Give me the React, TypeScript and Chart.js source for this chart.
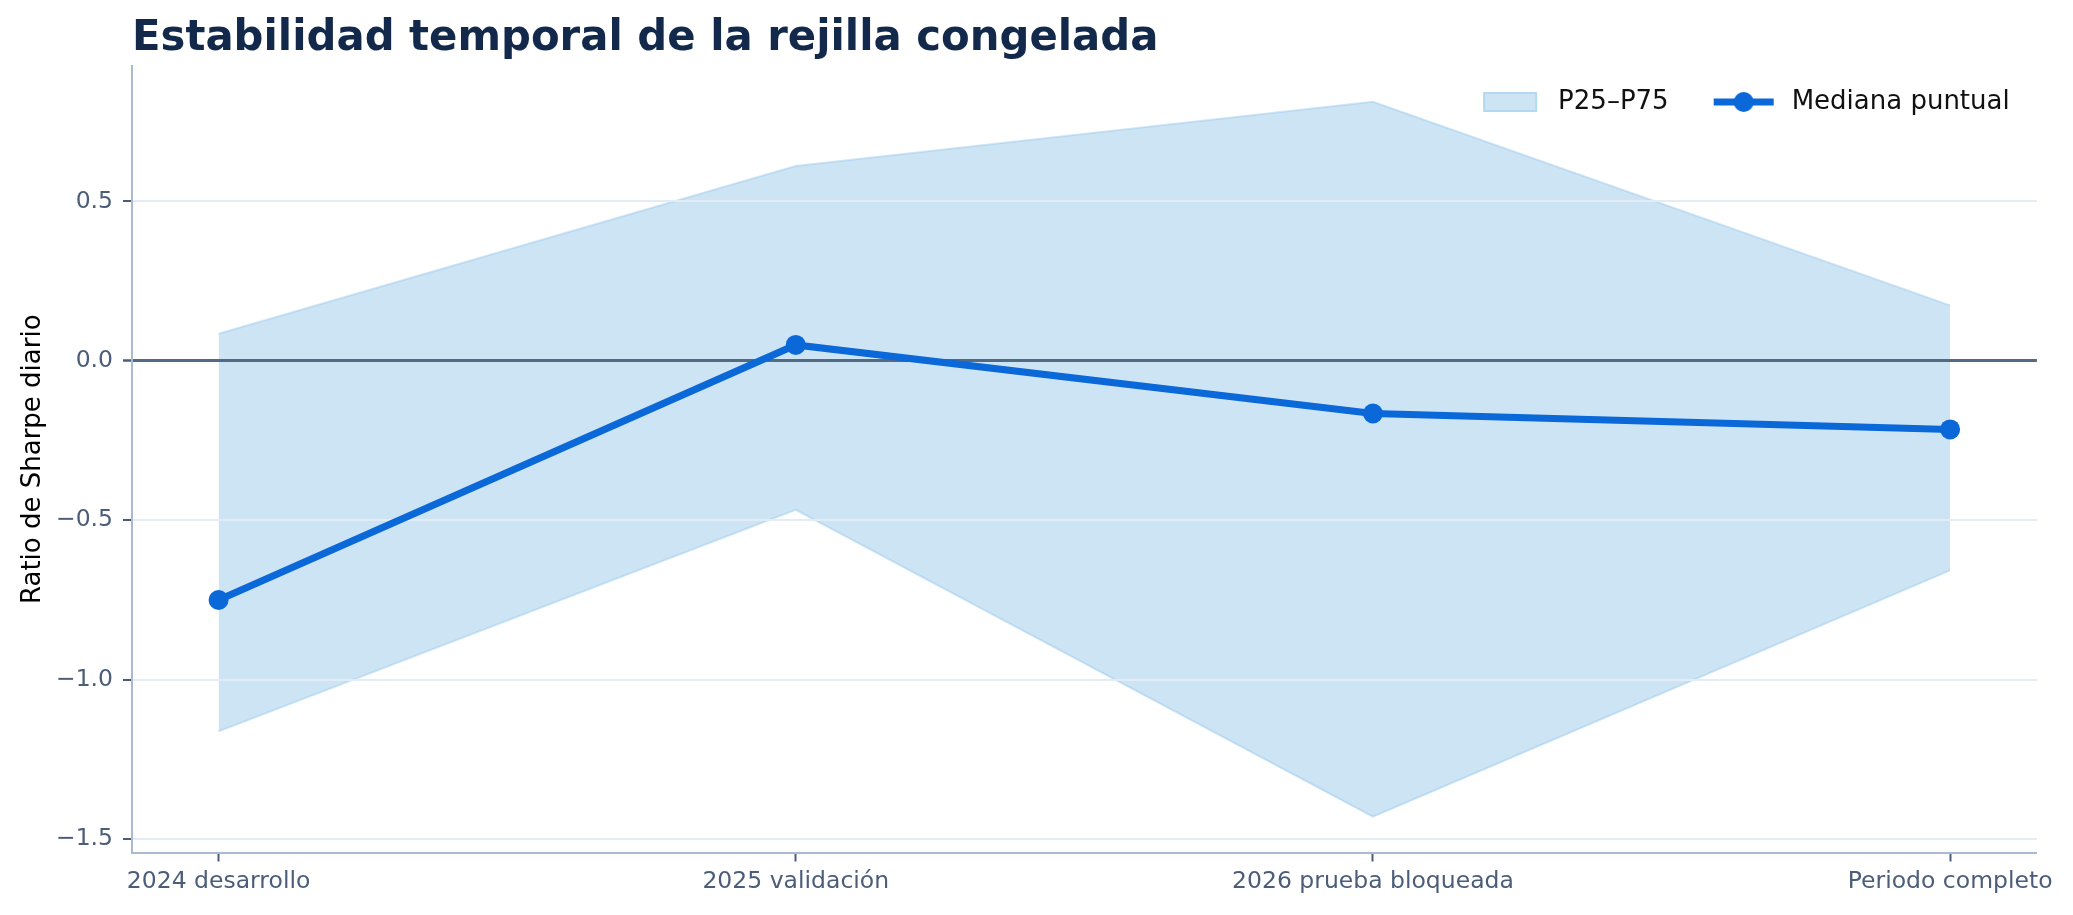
import { useEffect, useRef } from 'react'
import Chart from 'chart.js/auto'

const categories = ['2024 desarrollo', '2025 validación', '2026 prueba bloqueada', 'Periodo completo']
const median = [-0.75, 0.05, -0.165, -0.215]
const p75 = [0.085, 0.611, 0.813, 0.174]
const p25 = [-1.162, -0.467, -1.43, -0.657]
const yTicks = [-1.5, -1.0, -0.5, 0.0, 0.5]

const FONT = "'DejaVu Sans', sans-serif"
const LINE = '#0a68d9'
const BAND_FILL = 'rgba(135, 190, 230, 0.42)'
const BAND_EDGE = 'rgba(150, 200, 236, 0.45)'
const TICK_TEXT = '#4b5d79'
const SPINE = '#a8bbd2'
const GRID = '#e3ebf5'
const ZERO = '#536a84'
const HANDLE_W = 83

function patchImage() {
  const c = document.createElement('canvas')
  c.width = HANDLE_W
  c.height = 22
  const g = c.getContext('2d')!
  const x0 = HANDLE_W - 8 - 54
  g.fillStyle = BAND_FILL
  g.fillRect(x0, 1, 54, 20)
  g.strokeStyle = BAND_EDGE
  g.lineWidth = 2
  g.strokeRect(x0 + 1, 2, 52, 18)
  return c
}

function lineImage() {
  const c = document.createElement('canvas')
  c.width = HANDLE_W
  c.height = 22
  const g = c.getContext('2d')!
  const x1 = HANDLE_W - 5
  g.strokeStyle = LINE
  g.lineWidth = 7
  g.beginPath()
  g.moveTo(x1 - 60, 11)
  g.lineTo(x1, 11)
  g.stroke()
  g.fillStyle = LINE
  g.beginPath()
  g.arc(x1 - 30, 11, 10, 0, Math.PI * 2)
  g.fill()
  return c
}

const fmt = (v: number) => v.toFixed(1).replace('-', '\u2212')

export default function App() {
  const canvasRef = useRef<HTMLCanvasElement>(null)
  const chartRef = useRef<Chart | null>(null)

  useEffect(() => {
    document.body.style.margin = '0'
    const canvas = canvasRef.current
    if (!canvas) return

    if (chartRef.current) chartRef.current.destroy()

    const all = [...median, ...p75, ...p25]
    const lo = Math.min(...all)
    const hi = Math.max(...all)
    const pad = (hi - lo) * 0.05
    const xPad = (categories.length - 1) * 0.05

    const toPts = (arr: number[]) => arr.map((y, i) => ({ x: i, y }))
    const patch = patchImage()
    const lineMk = lineImage()

    // redraw the y grid (incl. zero line) above the band, under the median line
    const gridOverBand = {
      id: 'gridOverBand',
      beforeDatasetDraw(chart: any, args: any) {
        if (args.index !== 0) return
        chart.ctx.save()
        chart.scales.y.drawGrid(chart.chartArea)
        chart.ctx.restore()
      },
    }

    // legend takes no layout height; give it room to draw inside the plot
    const legendInPlot = {
      id: 'legendInPlot',
      afterLayout(chart: any) {
        const lg = chart.legend
        if (!lg) return
        lg.top = chart.chartArea.top - 4
        lg.height = 90
        lg.bottom = lg.top + 90
      },
    }

    chartRef.current = new Chart(canvas, {
      type: 'line',
      data: {
        datasets: [
          {
            label: 'Mediana puntual',
            data: toPts(median),
            borderColor: LINE,
            backgroundColor: LINE,
            borderWidth: 7,
            pointRadius: 10,
            pointBackgroundColor: LINE,
            pointBorderWidth: 0,
            fill: false,
            tension: 0,
          },
          {
            label: 'P75',
            data: toPts(p75),
            borderColor: BAND_EDGE,
            backgroundColor: BAND_FILL,
            borderWidth: 2,
            pointRadius: 0,
            fill: '+1',
            tension: 0,
          },
          {
            label: 'P25',
            data: toPts(p25),
            borderColor: BAND_EDGE,
            backgroundColor: BAND_FILL,
            borderWidth: 2,
            pointRadius: 0,
            fill: false,
            tension: 0,
          },
        ],
      },
      options: {
        animation: false,
        responsive: true,
        maintainAspectRatio: false,
        layout: { padding: { left: 0, right: 36.3, top: 0, bottom: 0 } },
        plugins: {
          tooltip: { enabled: false },
          title: {
            display: true,
            text: 'Estabilidad temporal de la rejilla congelada',
            align: 'start',
            fullSize: false,
            color: '#13294b',
            font: { family: FONT, size: 41.8, weight: 'bold' },
            padding: { top: 14, bottom: 1.8 },
          },
          legend: {
            display: true,
            position: 'top',
            align: 'end',
            fullSize: false,
            maxHeight: 0.001,
            labels: {
              usePointStyle: true,
              pointStyleWidth: HANDLE_W,
              padding: 27,
              color: '#111',
              font: { family: FONT, size: 26 },
              generateLabels: () => [
                {
                  text: 'P25\u2013P75',
                  pointStyle: patch,
                  fillStyle: BAND_FILL,
                  strokeStyle: BAND_EDGE,
                  lineWidth: 0,
                  fontColor: '#111',
                  hidden: false,
                  datasetIndex: 1,
                },
                {
                  text: 'Mediana puntual',
                  pointStyle: lineMk,
                  fillStyle: LINE,
                  strokeStyle: LINE,
                  lineWidth: 0,
                  fontColor: '#111',
                  hidden: false,
                  datasetIndex: 0,
                },
              ],
            },
          },
        },
        scales: {
          x: {
            type: 'linear',
            bounds: 'data',
            min: -xPad,
            max: categories.length - 1 + xPad,
            afterBuildTicks: (s: any) => {
              s.ticks = categories.map((_, i) => ({ value: i }))
            },
            afterFit: (s: any) => {
              s.height = 62.5
              s.paddingLeft = 0
              s.paddingRight = 0
            },
            ticks: {
              callback: (v: any) => categories[v as number],
              color: TICK_TEXT,
              font: { family: FONT, size: 23.5 },
              padding: 6.5,
              maxRotation: 0,
              autoSkip: false,
            },
            grid: {
              drawOnChartArea: false,
              drawTicks: true,
              tickLength: 9,
              tickColor: TICK_TEXT,
              tickWidth: 2,
            },
            border: { display: true, color: SPINE, width: 2 },
          },
          y: {
            type: 'linear',
            bounds: 'data',
            min: lo - pad,
            max: hi + pad,
            afterBuildTicks: (s: any) => {
              s.ticks = yTicks.map((v) => ({ value: v }))
            },
            afterFit: (s: any) => {
              s.width = 132
            },
            ticks: {
              callback: (v: any) => fmt(v as number),
              color: TICK_TEXT,
              font: { family: FONT, size: 23.5 },
              padding: 10,
            },
            grid: {
              color: (c: any) => (c.tick && c.tick.value === 0 ? ZERO : GRID),
              lineWidth: (c: any) => (c.tick && c.tick.value === 0 ? 3 : 2),
              drawTicks: true,
              tickLength: 9,
              tickColor: TICK_TEXT,
              tickWidth: 2,
            },
            border: { display: true, color: SPINE, width: 2 },
            title: {
              display: true,
              text: 'Ratio de Sharpe diario',
              color: '#000',
              font: { family: FONT, size: 26 },
              padding: { top: 18, bottom: 0 },
            },
          },
        },
      },
      plugins: [gridOverBand, legendInPlot],
    } as any)

    return () => {
      if (chartRef.current) {
        chartRef.current.destroy()
        chartRef.current = null
      }
    }
  }, [])

  return (
    <div style={{ width: 2073, height: 915, position: 'relative', background: '#fff' }}>
      <canvas ref={canvasRef} />
    </div>
  )
}
